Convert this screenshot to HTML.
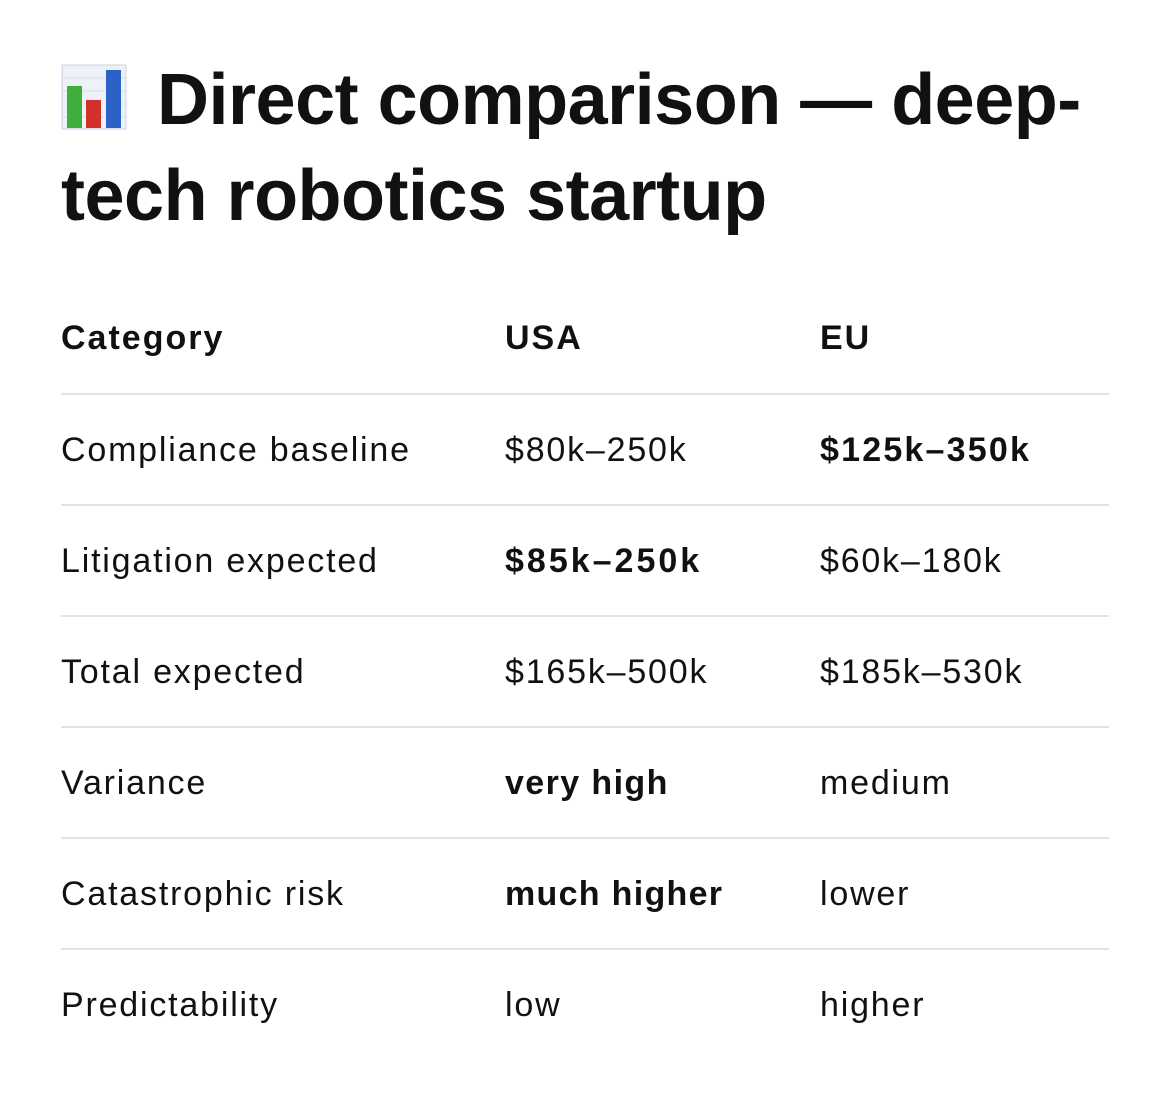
<!DOCTYPE html>
<html><head><meta charset="utf-8">
<style>
html,body{margin:0;padding:0;background:#fff;}
body{width:1170px;height:1102px;position:relative;overflow:hidden;font-family:"Liberation Sans",Arial,sans-serif;color:#111;}
.title{position:absolute;left:61px;top:52px;width:1090px;font-size:72px;font-weight:bold;line-height:96px;letter-spacing:-0.5px;}
.icon{display:inline-block;width:66px;height:66px;vertical-align:-6px;margin-right:30px;}
.row{position:absolute;left:61px;width:1048px;height:111px;}
.row.sep{border-top:2px solid #e3e3e3;}
.cell{position:absolute;top:0;line-height:111px;font-size:34px;letter-spacing:1.8px;white-space:nowrap;}
.c1{left:0}.c2{left:444px}.c3{left:759px}
b{font-weight:bold;letter-spacing:2.2px}
</style></head><body>
<div class="title"><svg class="icon" viewBox="0 0 66 66"><rect x="1" y="1" width="64" height="64" fill="#eef2f8" stroke="#c9d3e2"/><g stroke="#d5dde9" stroke-width="1"><line x1="1" y1="14" x2="65" y2="14"/><line x1="1" y1="27" x2="65" y2="27"/><line x1="1" y1="40" x2="65" y2="40"/><line x1="1" y1="53" x2="65" y2="53"/></g><rect x="6" y="22" width="15" height="42" fill="#3fae3a"/><rect x="25" y="36" width="15" height="28" fill="#d0312a"/><rect x="45" y="6" width="15" height="58" fill="#2c62c8"/></svg>Direct comparison — deep-tech robotics startup</div>

<div class="row" style="top:283px">
<div class="cell c1"><b style="letter-spacing:2px">Category</b></div>
<div class="cell c2"><b style="letter-spacing:2px">USA</b></div>
<div class="cell c3"><b style="letter-spacing:2px">EU</b></div>
</div>
<div class="row sep" style="top:393px">
<div class="cell c1">Compliance baseline</div><div class="cell c2">$80k–250k</div><div class="cell c3"><b>$125k–350k</b></div></div>
<div class="row sep" style="top:504px">
<div class="cell c1">Litigation expected</div><div class="cell c2"><b style="letter-spacing:3px">$85k–250k</b></div><div class="cell c3">$60k–180k</div></div>
<div class="row sep" style="top:615px">
<div class="cell c1">Total expected</div><div class="cell c2">$165k–500k</div><div class="cell c3">$185k–530k</div></div>
<div class="row sep" style="top:726px">
<div class="cell c1">Variance</div><div class="cell c2"><b style="letter-spacing:1.4px">very high</b></div><div class="cell c3">medium</div></div>
<div class="row sep" style="top:837px">
<div class="cell c1">Catastrophic risk</div><div class="cell c2"><b style="letter-spacing:1.3px">much higher</b></div><div class="cell c3">lower</div></div>
<div class="row sep" style="top:948px">
<div class="cell c1">Predictability</div><div class="cell c2">low</div><div class="cell c3">higher</div></div>
</body></html>
